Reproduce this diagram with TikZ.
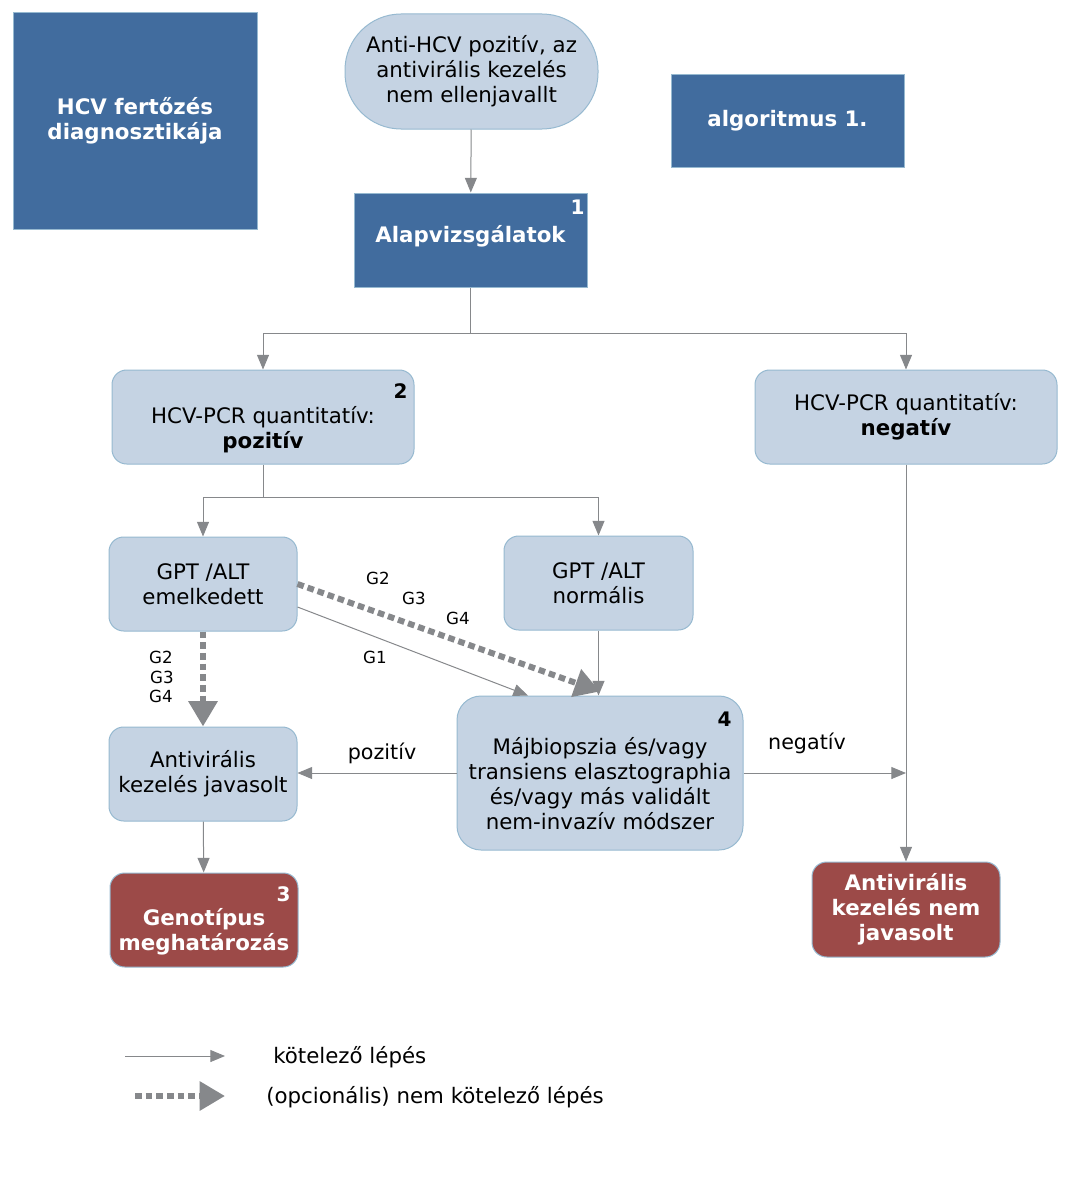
\documentclass[tikz,border=0pt]{standalone}
\usepackage{fontspec}
\setmainfont{DejaVu Sans}
\usetikzlibrary{arrows.meta,positioning}
\definecolor{hcvdark}{RGB}{65,108,158}
\definecolor{hcvlight}{RGB}{197,211,227}
\definecolor{hcvedge}{RGB}{150,185,208}
\definecolor{hcvred}{RGB}{156,74,72}
\definecolor{hcvgrey}{RGB}{134,136,139}

\begin{document}
\begin{tikzpicture}[x=0.75pt,y=-0.75pt,
    box/.style={draw=hcvedge, line width=0.75pt, fill=hcvlight, rounded corners=11pt,
        align=center, inner sep=2pt, font=\fontsize{16}{18.75}\selectfont},
    darkbox/.style={draw=hcvedge, line width=0.75pt, fill=hcvdark, text=white,
        align=center, font=\fontsize{16}{18.75}\selectfont\bfseries},
    redbox/.style={box, fill=hcvred, text=white, font=\fontsize{16}{18.75}\selectfont\bfseries},
    num/.style={inner sep=0pt, font=\fontsize{15}{17}\selectfont\bfseries},
    glabel/.style={inner sep=0pt, font=\fontsize{12.5}{14}\selectfont},
    elabel/.style={inner sep=0pt, font=\fontsize{15.5}{18}\selectfont},
    line/.style={draw=hcvgrey, line width=0.75pt, -{Triangle[length=11pt,width=9pt]}},
    optline/.style={draw=hcvgrey, line width=4.5pt, dash pattern=on 5pt off 3pt,
        -{Triangle[length=19pt,width=21pt]}}]
    \useasboundingbox (0,0) rectangle (1070,1181);

    \node[darkbox, minimum width=183pt, minimum height=162pt] (diag) at (135,121) {HCV fertőzés\\diagnosztikája};
    \node[darkbox, minimum width=174.75pt, minimum height=69pt] (alg) at (787.5,121) {algoritmus 1.};
    \node[box, rounded corners=42pt, minimum width=189.75pt, minimum height=86.25pt] (start) at (471.5,71.5)
        {Anti-HCV pozitív, az\\antivirális kezelés\\nem ellenjavallt};
    \node[darkbox, minimum width=174.75pt, minimum height=70.5pt] (alap) at (470.5,240) {Alapvizsgálatok\rule[-9pt]{0pt}{9pt}};
    \node[box, minimum width=226.5pt, minimum height=70.5pt] (pos) at (263,417)
        {\rule{0pt}{32pt}HCV-PCR quantitatív:\\\textbf{pozitív}};
    \node[box, minimum width=226.5pt, minimum height=70.5pt] (neg) at (906,417)
        {HCV-PCR quantitatív:\\\textbf{negatív}};
    \node[box, minimum width=141pt, minimum height=70.5pt] (gpte) at (203,584) {GPT /ALT\\emelkedett};
    \node[box, minimum width=141.75pt, minimum height=70.5pt] (gptn) at (598.5,583) {GPT /ALT\\normális};
    \node[box, minimum width=141pt, minimum height=70.5pt] (jav) at (203,774) {Antivirális\\kezelés javasolt};
    \node[box, rounded corners=18pt, minimum width=214.5pt, minimum height=115.5pt] (maj) at (600,773)
        {\rule{0pt}{28pt}Májbiopszia és/vagy\\transiens elasztographia\\és/vagy más validált\\nem-invazív módszer};
    \node[redbox, minimum width=141pt, minimum height=70.5pt] (genot) at (204,920)
        {\rule{0pt}{31pt}Genotípus\\meghatározás};
    \node[redbox, minimum width=141pt, minimum height=71.25pt] (nemjav) at (906,909.5)
        {Antivirális\\kezelés nem\\javasolt};

    % numbers
    \node[num, text=white] (n1) at ([xshift=-7.5pt,yshift=-11.25pt]alap.north east) {1};
    \node[num] (n2) at ([xshift=-10.5pt,yshift=-16.5pt]pos.north east) {2};
    \node[num, text=white] (n3) at ([xshift=-11.25pt,yshift=-16.5pt]genot.north east) {3};
    \node[num] (n4) at ([xshift=-14.25pt,yshift=-18pt]maj.north east) {4};

    % connectors
    \coordinate (br1) at (470.5,333);
    \coordinate (br2) at (263,497);
    \draw[line] (start) -- (alap);
    \draw[draw=hcvgrey, line width=0.75pt] (alap) -- (br1);
    \draw[line] (br1) -| (pos);
    \draw[line] (br1) -| (neg);
    \draw[draw=hcvgrey, line width=0.75pt] (pos) -- (br2);
    \draw[line] (br2) -| (gpte);
    \draw[line] (br2) -| (gptn);
    \draw[line] (gptn) -- (gptn |- maj.north);
    \draw[line] ([yshift=-17.25pt]gpte.east) -- ([xshift=-54pt]maj.north);
    \draw[optline] (gpte.east) -- ([yshift=3pt]maj.north);
    \draw[optline] (gpte) -- (jav);
    \draw[line] (maj.west) -- (maj.west -| jav.east);
    \draw[line] (maj.east) -- (maj.east -| neg);
    \draw[line] (neg) -- (nemjav);
    \draw[line] (jav) -- (genot);

    % labels
    \node[glabel] (g2r) at (378,578) {G2};
    \node[glabel] (g3r) at (414,598) {G3};
    \node[glabel] (g4r) at (458,618) {G4};
    \node[glabel] (g1r) at (375,657) {G1};
    \node[glabel] (g2d) at (161,657) {G2};
    \node[glabel] (g3d) at (162,677) {G3};
    \node[glabel] (g4d) at (161,696) {G4};
    \node[elabel] (lpos) at (382,753) {pozitív};
    \node[elabel] (lneg) at (807,743) {negatív};

    % legend
    \coordinate (k1a) at (125,1056);
    \coordinate (k1b) at (225,1056);
    \coordinate (k2a) at (135,1096);
    \coordinate (k2b) at (225,1096);
    \draw[line] (k1a) -- (k1b);
    \draw[optline] (k2a) -- (k2b);
    \node[elabel, anchor=west, font=\fontsize{16}{18}\selectfont] (kt1) at (273,1057) {kötelező lépés};
    \node[elabel, anchor=west, font=\fontsize{16}{18}\selectfont] (kt2) at (266,1097) {(opcionális) nem kötelező lépés};
\end{tikzpicture}
\end{document}
